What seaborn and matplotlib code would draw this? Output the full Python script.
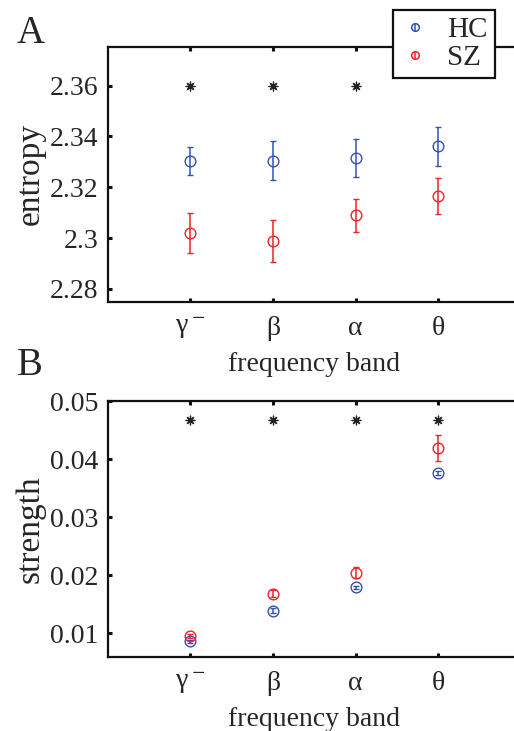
import numpy as np
import pandas as pd
import matplotlib
matplotlib.use("Agg")
import matplotlib.pyplot as plt
from matplotlib.lines import Line2D
from matplotlib.legend_handler import HandlerTuple
import seaborn as sns

bands = ["γ$\\,^{-}$", "β", "α", "θ"]
groups = ["HC", "SZ"]

entropy_hc = [2.3305, 2.3305, 2.3315, 2.3361]
entropy_hc_err = [0.0055, 0.0078, 0.0075, 0.0077]
entropy_sz = [2.3020, 2.2989, 2.3090, 2.3166]
entropy_sz_err = [0.0077, 0.0081, 0.0064, 0.0071]
entropy_sig = [2.36, 2.36, 2.36, np.nan]

strength_hc = [0.00862, 0.01392, 0.01794, 0.03768]
strength_hc_err = [0.0003, 0.0004, 0.0003, 0.0003]
strength_sz = [0.00954, 0.0168, 0.02048, 0.04189]
strength_sz_err = [0.0003, 0.0006, 0.0009, 0.00224]
strength_sig = [0.0467, 0.0467, 0.0467, 0.0467]

sns.set_theme(style="ticks")
plt.rcParams["font.family"] = ["Liberation Serif", "DejaVu Serif"]
plt.rcParams["mathtext.fontset"] = "stix"

colors = {"HC": "#3552b0", "SZ": "#ee2229"}

fig = plt.figure(figsize=(5.14, 7.31), dpi=100)
axA = fig.add_axes([0.210, 0.587, 0.803, 0.349])
axB = fig.add_axes([0.210, 0.101, 0.803, 0.350])

pos = np.arange(1, len(bands) + 1)


def panel(ax, hc, hce, sz, sze, sig, ylim, yticks, yticklabels, ylabel):
    for g, v, e in (("HC", hc, hce), ("SZ", sz, sze)):
        ax.errorbar(pos, v, yerr=e, fmt="o", mfc="none", mec=colors[g],
                    ecolor=colors[g], color=colors[g], ms=7.7, mew=1.0,
                    elinewidth=1.1, capsize=2.2, capthick=1.1, zorder=3)
    df = pd.DataFrame({"x": pos, "y": sig}).dropna()
    sns.scatterplot(data=df, x="x", y="y", marker=(8, 2, 0), color="#222222",
                    s=40, linewidth=0.9, ax=ax, zorder=3, legend=False)
    ax.set_xlim(0, 5)
    ax.set_ylim(*ylim)
    ax.set_xticks(pos)
    ax.set_xticklabels(bands)
    ax.set_yticks(yticks)
    ax.set_yticklabels(yticklabels)
    ax.tick_params(direction="in", length=3, width=2.2, top=True, bottom=True,
                   left=True, right=False, labelsize=20, pad=7, color="#111111")
    ax.tick_params(axis="x", pad=10)
    for s in ax.spines.values():
        s.set_linewidth(1.6)
        s.set_color("#111111")
    ax.set_xlabel("frequency band", fontsize=20, labelpad=8)
    ax.set_ylabel(ylabel, fontsize=24, labelpad=3)


panel(axA, entropy_hc, entropy_hc_err, entropy_sz, entropy_sz_err,
      entropy_sig, (2.2749, 2.3753), [2.28, 2.30, 2.32, 2.34, 2.36],
      ["2.28", "2.3", "2.32", "2.34", "2.36"], "entropy")
panel(axB, strength_hc, strength_hc_err, strength_sz, strength_sz_err,
      strength_sig, (0.0059, 0.05), [0.01, 0.02, 0.03, 0.04, 0.05],
      ["0.01", "0.02", "0.03", "0.04", "0.05"], "strength")

handles = []
for g in groups:
    circ = Line2D([], [], marker="o", ms=5.5, mfc="none", mec=colors[g], mew=1.1,
                  ls="none")
    bar = Line2D([], [], marker="|", ms=5.5, mec=colors[g], mew=1.1, ls="none")
    handles.append((circ, bar))

leg = axA.legend(handles, groups, loc="upper left", bbox_to_anchor=(0.765, 0.987),
                 bbox_transform=fig.transFigure, fontsize=21, frameon=True,
                 fancybox=False, framealpha=1, edgecolor="#111111",
                 handler_map={tuple: HandlerTuple(ndivide=1, pad=0)},
                 handlelength=1.0, handletextpad=0.6,
                 borderpad=0.25, labelspacing=0.05, borderaxespad=0)
leg.get_frame().set_linewidth(1.6)

fig.text(0.033, 0.941, "A", fontsize=28, va="baseline", ha="left")
fig.text(0.033, 0.487, "B", fontsize=28, va="baseline", ha="left")

fig.savefig("out.png", dpi=100, facecolor="white")
